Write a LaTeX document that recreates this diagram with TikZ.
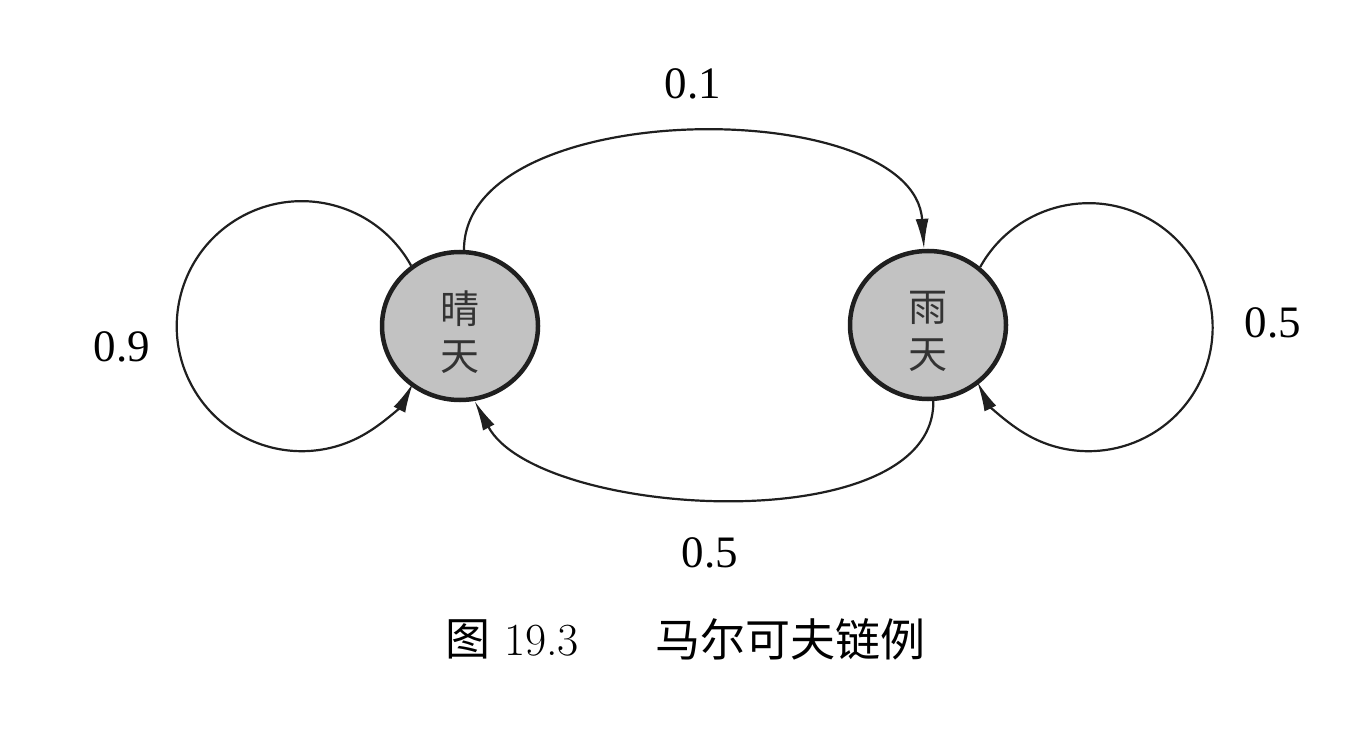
\documentclass[tikz,border=0pt]{standalone}
\usepackage{fontspec}
\setmainfont{Latin Modern Roman}
\newfontfamily\cjk{Noto Sans CJK SC}
\newfontfamily\lab{Liberation Serif}
\usetikzlibrary{arrows.meta,shapes.geometric}
\begin{document}
\begin{tikzpicture}[x=1pt,y=1pt,
  state/.style={ellipse,draw=black!88,line width=4.5pt,fill=gray!48,
    minimum width=156pt,minimum height=148pt,inner sep=0pt},
  stxt/.style={yshift=-6pt,align=center,inner sep=0pt,
    font=\cjk\fontsize{39}{47}\selectfont,text=black!80},
  edge/.style={line width=2.2pt,draw=black!88,
    -{Latex[length=30pt,width=13pt]}},
  prob/.style={font=\lab\fontsize{45}{50}\selectfont},
  capt/.style={font=\fontsize{46}{50}\selectfont}]
\useasboundingbox (0,0) rectangle (1354,732);
\node[state,label={[stxt]center:晴\\天}] (l) at (460,406) {};
\node[state,label={[stxt]center:雨\\天}] (r) at (928,407) {};
% top arc
\draw[edge] (l.87) .. controls +(0,155) and +(-10,155) .. (r.93);
% bottom arc
\draw[edge] (r.274) .. controls +(2,-141) and +(63,-118) .. (l.281);
% self loops
\draw[edge] (l.129) arc[start angle=29,end angle=333,radius=125];
\draw[edge] (r.48) arc[start angle=151,end angle=-154,radius=124];
% labels
\node[prob] (p1) at (693,648) {0.1};
\node[prob] (p2) at (122,385) {0.9};
\node[prob] (p3) at (1273,409) {0.5};
\node[prob] (p4) at (710,179) {0.5};
% caption
\node[capt,anchor=west,inner sep=0pt] (c1) at (445,93) {{\cjk\fontsize{45}{50}\selectfont 图} 19.3};
\node[capt,anchor=west,inner sep=0pt] (c2) at (655,93) {\cjk\fontsize{45}{50}\selectfont 马尔可夫链例};
\end{tikzpicture}
\end{document}
